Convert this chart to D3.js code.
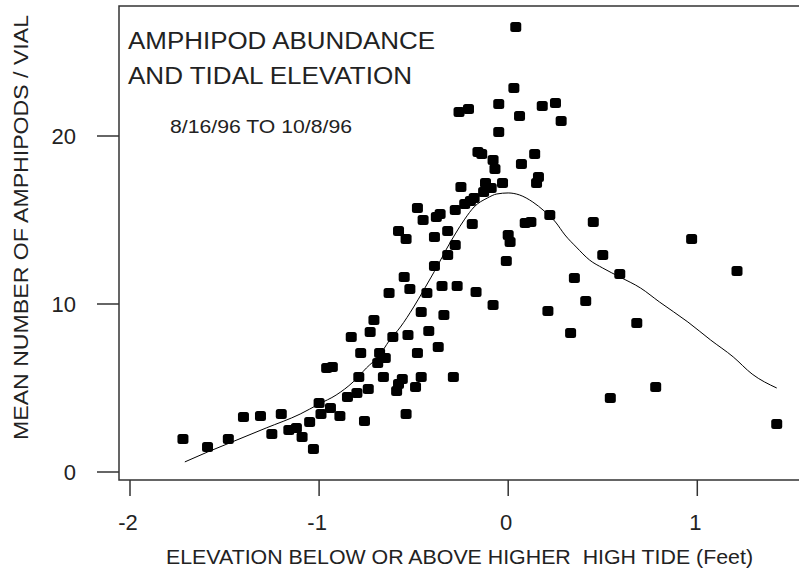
<!DOCTYPE html>
<html>
<head>
<meta charset="utf-8">
<script src="https://cdn.jsdelivr.net/npm/d3@7"></script>
<style>
  body { margin: 0; background: #fff; }
  text { font-family: "Liberation Sans", Arial, sans-serif; fill: #222; }
</style>
</head>
<body>
<div id="chart"></div>
<script>
// elevation (feet) of each sample and mean amphipods per vial
var elevation = [-1.72, -1.59, -1.48, -1.40, -1.31, -1.20, -1.25, -1.16, -1.12, -1.09,
  -1.05, -1.03, -1.00, -0.99, -0.94, -0.89, -0.96, -0.93, -0.85, -0.80,
  -0.76, -0.79, -0.74, -0.78, -0.83, -0.73, -0.71, -0.68, -0.69, -0.65,
  -0.66, -0.61, -0.63, -0.56, -0.58, -0.59, -0.52, -0.43, -0.35, -0.55,
  -0.46, -0.34, -0.53, -0.42, -0.37, -0.48, -0.46, -0.49, -0.29, -0.54,
  -0.27, -0.17, -0.08, -0.58, -0.54, -0.48, -0.45, -0.38, -0.36, -0.39,
  -0.32, -0.28, -0.32, -0.39, -0.19, -0.28, -0.23, -0.20, -0.18, -0.25,
  -0.13, -0.12, -0.09, -0.03, 0.00, 0.01, -0.01, 0.04, 0.03, -0.05,
  -0.26, -0.21, 0.18, 0.25, 0.06, 0.28, -0.05, -0.16, -0.14, -0.08,
  -0.07, 0.07, 0.14, 0.16, 0.15, 0.22, 0.09, 0.12, 0.45, 0.50,
  0.59, 0.35, 0.41, 0.21, 0.33, 0.68, 0.97, 1.21, 0.54, 0.78, 1.42];
var amphipods = [1.96, 1.49, 1.96, 3.27, 3.33, 3.45, 2.26, 2.50, 2.62, 2.08,
  2.98, 1.37, 4.11, 3.45, 3.81, 3.33, 6.19, 6.25, 4.46, 4.70,
  3.04, 5.65, 4.94, 7.08, 8.04, 8.33, 9.05, 7.08, 6.49, 6.79,
  5.65, 8.04, 10.65, 5.54, 5.24, 4.82, 10.89, 10.65, 11.07, 11.61,
  9.52, 9.35, 8.15, 8.39, 7.44, 7.08, 5.65, 5.06, 5.65, 3.45,
  11.07, 10.71, 9.94, 14.35, 13.87, 15.71, 15.00, 15.18, 15.36, 13.99,
  14.35, 13.51, 12.92, 12.26, 14.76, 15.60, 15.95, 16.13, 16.31, 16.96,
  16.67, 17.20, 16.90, 17.20, 14.11, 13.69, 12.56, 26.49, 22.86, 21.90,
  21.43, 21.61, 21.79, 21.96, 21.19, 20.89, 20.24, 19.05, 18.93, 18.57,
  18.04, 18.33, 18.93, 17.56, 17.20, 15.30, 14.82, 14.88, 14.88, 12.92,
  11.79, 11.55, 10.18, 9.58, 8.27, 8.87, 13.87, 11.96, 4.40, 5.06, 2.86];

// smoothed trend line
var fitX = [-1.71, -1.59, -1.46, -1.28, -1.10, -1.00, -0.91, -0.82, -0.75, -0.68,
  -0.63, -0.57, -0.50, -0.45, -0.41, -0.37, -0.33, -0.28, -0.23, -0.18,
  -0.11, -0.06, 0.00, 0.06, 0.13, 0.19, 0.25, 0.30, 0.36, 0.43,
  0.50, 0.59, 0.70, 0.80, 0.95, 1.07, 1.19, 1.29, 1.42];
var fitY = [0.60, 1.19, 1.79, 2.62, 3.45, 4.05, 4.58, 5.36, 6.19, 6.96,
  7.80, 8.63, 9.82, 10.77, 11.55, 12.35, 13.20, 14.17, 15.05, 15.78,
  16.31, 16.55, 16.61, 16.49, 16.07, 15.54, 14.88, 14.11, 13.39, 12.62,
  12.14, 11.61, 10.95, 10.12, 8.93, 7.86, 6.85, 5.83, 5.00];

var xTicks = [-2, -1, 0, 1];
var yTicks = [0, 10, 20];

var width = 799;
var height = 571;
var frame = {left: 119, top: 6, bottom: 480};

var svg = d3.select("#chart")
    .append("svg")
    .attr("width", width)
    .attr("height", height);

var x = d3.scaleLinear()
    .domain([-2, 1])
    .range([130, 697.3]);

var y = d3.scaleLinear()
    .domain([0, 20])
    .range([472, 136]);

// frame: left, top and bottom edges (right side runs off the picture)
svg.append("path")
    .attr("d", "M" + (width + 2) + "," + frame.top + "H" + frame.left +
               "V" + frame.bottom + "H" + (width + 2))
    .attr("fill", "none")
    .attr("stroke", "#333")
    .attr("stroke-width", 1.5);

// y ticks and labels
svg.selectAll(".ytick")
    .data(yTicks)
    .enter().append("line")
    .attr("x1", 97).attr("x2", frame.left)
    .attr("y1", function(d) { return y(d); })
    .attr("y2", function(d) { return y(d); })
    .attr("stroke", "#333")
    .attr("stroke-width", 1.5);

svg.selectAll(".ylab")
    .data(yTicks)
    .enter().append("text")
    .attr("x", 76)
    .attr("y", function(d) { return y(d) + 8; })
    .attr("text-anchor", "end")
    .style("font-size", "22px")
    .text(function(d) { return d; });

// x ticks and labels
svg.selectAll(".xtick")
    .data(xTicks)
    .enter().append("line")
    .attr("x1", function(d) { return x(d); })
    .attr("x2", function(d) { return x(d); })
    .attr("y1", frame.bottom).attr("y2", 496)
    .attr("stroke", "#333")
    .attr("stroke-width", 1.5);

svg.selectAll(".xlab")
    .data(xTicks)
    .enter().append("text")
    .attr("x", function(d) { return x(d) - 2; })
    .attr("y", 530)
    .attr("text-anchor", "middle")
    .style("font-size", "22px")
    .text(function(d) { return d; });

// axis titles
svg.append("text")
    .attr("x", 166)
    .attr("y", 564)
    .attr("textLength", 587)
    .attr("lengthAdjust", "spacingAndGlyphs")
    .style("font-size", "21px")
    .style("white-space", "pre")
    .text("ELEVATION BELOW OR ABOVE HIGHER  HIGH TIDE (Feet)");

svg.append("text")
    .attr("transform", "translate(28,440) rotate(-90)")
    .attr("textLength", 425)
    .attr("lengthAdjust", "spacingAndGlyphs")
    .style("font-size", "21px")
    .text("MEAN NUMBER OF AMPHIPODS / VIAL");

// titles inside the plot
svg.append("text")
    .attr("x", 128).attr("y", 49)
    .attr("textLength", 307)
    .attr("lengthAdjust", "spacingAndGlyphs")
    .style("font-size", "23px")
    .text("AMPHIPOD ABUNDANCE");

svg.append("text")
    .attr("x", 128).attr("y", 84)
    .attr("textLength", 284)
    .attr("lengthAdjust", "spacingAndGlyphs")
    .style("font-size", "23px")
    .text("AND TIDAL ELEVATION");

svg.append("text")
    .attr("x", 170).attr("y", 133)
    .attr("textLength", 182)
    .attr("lengthAdjust", "spacingAndGlyphs")
    .style("font-size", "18px")
    .text("8/16/96 TO 10/8/96");

// trend line
var fit = fitX.map(function(v, i) { return [v, fitY[i]]; });
svg.append("path")
    .datum(fit)
    .attr("fill", "none")
    .attr("stroke", "#000")
    .attr("stroke-width", 1)
    .attr("d", d3.line()
        .x(function(d) { return x(d[0]); })
        .y(function(d) { return y(d[1]); })
        .curve(d3.curveMonotoneX));

// sample points
var points = elevation.map(function(v, i) { return {x: v, y: amphipods[i]}; });
svg.selectAll(".pt")
    .data(points)
    .enter().append("rect")
    .attr("class", "pt")
    .attr("x", function(d) { return x(d.x) - 5.5; })
    .attr("y", function(d) { return y(d.y) - 5; })
    .attr("width", 11)
    .attr("height", 10)
    .attr("rx", 2.5)
    .attr("fill", "#000");
</script>
</body>
</html>
